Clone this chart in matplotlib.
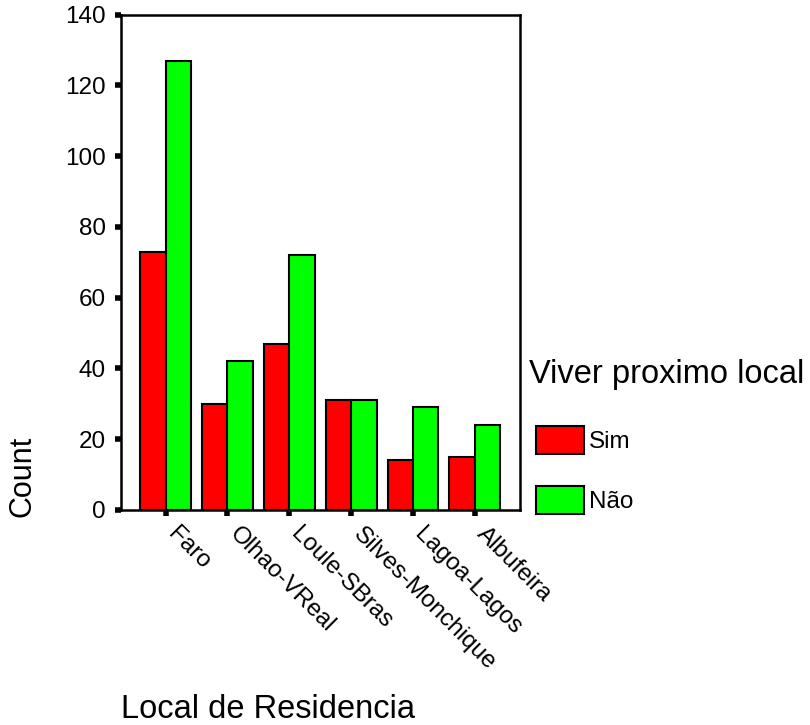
import numpy as np
import matplotlib.pyplot as plt
import matplotlib.transforms as mtransforms

plt.rcParams['font.family'] = ['Liberation Sans', 'DejaVu Sans']

# Data
locais = ['Faro', 'Olhao-VReal', 'Loule-SBras', 'Silves-Monchique', 'Lagoa-Lagos', 'Albufeira']
sim = [73, 30, 47, 31, 14, 15]
nao = [127, 42, 72, 31, 29, 24]
series_labels = ['Sim', 'N\u00e3o']
series_colors = ['#ff0000', '#00ff00']

fig = plt.figure(figsize=(8.1, 7.25), dpi=100)
ax = fig.add_axes([120.5 / 810, 1 - 510 / 725, 399.5 / 810, (510 - 14.5) / 725])

x = np.arange(len(locais))
w = 0.41
ax.bar(x - w / 2, sim, width=w, color=series_colors[0], edgecolor='black', linewidth=1.5, label=series_labels[0])
ax.bar(x + w / 2, nao, width=w, color=series_colors[1], edgecolor='black', linewidth=1.5, label=series_labels[1])

ax.set_xlim(-0.73, len(locais) - 1 + 0.73)
ax.set_ylim(0, 140)
ax.set_yticks(np.arange(0, 141, 20))
ax.set_xticks(x)
ax.set_xticklabels([])
# rotated category labels, placed a bit right of and below each tick
trans = ax.get_xaxis_transform() + mtransforms.ScaledTranslation(13 / 100, -13 / 100, fig.dpi_scale_trans)
for i, name in zip(x, locais):
    ax.text(i, 0, name, transform=trans, rotation=-45, ha='left', va='top',
            rotation_mode='anchor', fontsize=17.5)
ax.tick_params(axis='both', direction='out', length=4, width=4, color='black')
ax.tick_params(axis='y', pad=6.5, labelsize=17.5)
for sp in ax.spines.values():
    sp.set_linewidth(1.8)
    sp.set_color('black')

fig.text(268 / 810, 1 - 710 / 725, 'Local de Residencia', fontsize=23.5, ha='center', va='center')
fig.text(22.5 / 810, 1 - 476 / 725, 'Count', fontsize=22, ha='center', va='center', rotation=90)

fig.text(529 / 810, 1 - 374 / 725, 'Viver proximo local', fontsize=23.5, ha='left', va='center')
leg = ax.legend(loc='upper left', bbox_to_anchor=(536 / 810, 1 - 426 / 725),
                bbox_transform=fig.transFigure, frameon=False, fontsize=17.5,
                handlelength=1.98, handleheight=1.4, labelspacing=1.3, handletextpad=0.2,
                borderaxespad=0, borderpad=0)

fig.savefig('out.png', dpi=100, facecolor='white')
